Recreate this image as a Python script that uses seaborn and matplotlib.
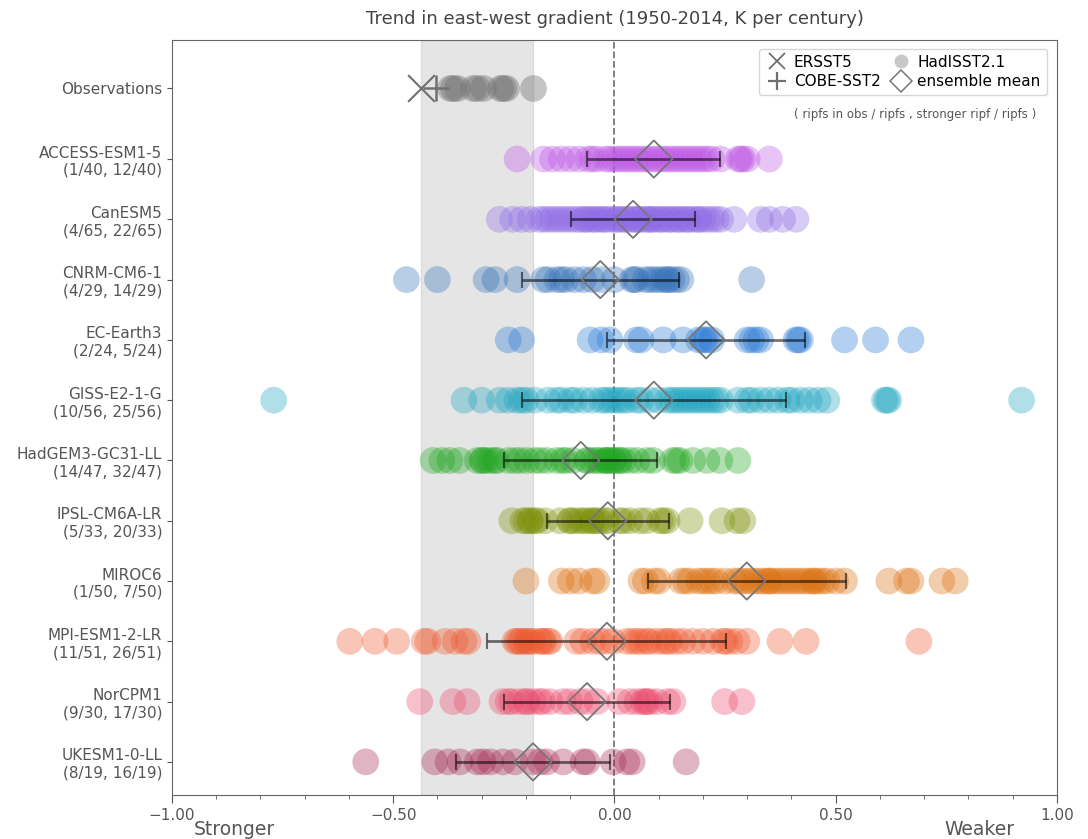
import numpy as np
import pandas as pd
import matplotlib
matplotlib.use('Agg')
import matplotlib.pyplot as plt
import matplotlib.ticker as mtick
from matplotlib.lines import Line2D
import seaborn as sns

# ------------------------------------------------------------
# data (K per century)
# ------------------------------------------------------------
models = ['ACCESS-ESM1-5', 'CanESM5', 'CNRM-CM6-1', 'EC-Earth3', 'GISS-E2-1-G',
          'HadGEM3-GC31-LL', 'IPSL-CM6A-LR', 'MIROC6', 'MPI-ESM1-2-LR',
          'NorCPM1', 'UKESM1-0-LL']
n_in_obs = [1, 4, 4, 2, 10, 14, 5, 1, 11, 9, 8]
n_stronger = [12, 22, 14, 5, 25, 32, 20, 7, 26, 17, 16]
n_members = [40, 65, 29, 24, 56, 47, 33, 50, 51, 30, 19]

colors = ['#bd56e5', '#8f6de5', '#3470b8', '#2a7ad6', '#1fa4c0', '#22a622',
          '#7c9008', '#dc7010', '#ee5a30', '#eb4b6d', '#a82a55']

ersst5 = -0.437
cobe_sst2 = -0.403
hadisst = [-0.372, -0.365, -0.355, -0.32, -0.31, -0.297, -0.259, -0.252, -0.245, -0.184]

members = {
    'ACCESS-ESM1-5': [-0.22, -0.16, -0.14, -0.12, -0.10, -0.08, -0.06, -0.05, -0.04, -0.02,
                      -0.01, 0.00, 0.01, 0.02, 0.03, 0.04, 0.05, 0.06, 0.07, 0.08, 0.09,
                      0.10, 0.11, 0.12, 0.13, 0.14, 0.15, 0.16, 0.17, 0.18, 0.19, 0.20,
                      0.21, 0.22, 0.24, 0.28, 0.285, 0.29, 0.30, 0.35],
    'CanESM5': [-0.26, -0.23, -0.21, -0.19, -0.17, -0.16, -0.15, -0.14, -0.13, -0.12,
                -0.11, -0.10, -0.09, -0.08, -0.07, -0.065, -0.06, -0.05, -0.045, -0.04,
                -0.03, -0.025, -0.02, -0.01, 0.00, 0.005, 0.01, 0.02, 0.025, 0.03, 0.04,
                0.045, 0.05, 0.055, 0.06, 0.07, 0.075, 0.08, 0.085, 0.09, 0.10, 0.105,
                0.11, 0.12, 0.125, 0.13, 0.14, 0.145, 0.15, 0.16, 0.165, 0.17, 0.18,
                0.19, 0.19, 0.20, 0.21, 0.22, 0.23, 0.24, 0.27, 0.33, 0.35, 0.38, 0.41],
    'CNRM-CM6-1': [-0.47, -0.40, -0.29, -0.27, -0.22, -0.16, -0.15, -0.13, -0.12, -0.11,
                   -0.09, -0.07, -0.05, -0.03, 0.00, 0.04, 0.045, 0.05, 0.07, 0.08, 0.09,
                   0.10, 0.11, 0.12, 0.12, 0.13, 0.14, 0.15, 0.31],
    'EC-Earth3': [-0.24, -0.21, -0.055, -0.03, -0.01, 0.05, 0.06, 0.11, 0.155, 0.19, 0.20,
                  0.205, 0.21, 0.22, 0.30, 0.31, 0.32, 0.33, 0.41, 0.415, 0.42, 0.52,
                  0.59, 0.67],
    'GISS-E2-1-G': [-0.77, -0.34, -0.30, -0.26, -0.24, -0.22, -0.21, -0.20, -0.18, -0.15,
                    -0.13, -0.12, -0.10, -0.09, -0.07, -0.05, -0.03, -0.02, -0.01, 0.00,
                    0.01, 0.02, 0.03, 0.05, 0.06, 0.08, 0.10, 0.12, 0.13, 0.14, 0.15,
                    0.16, 0.17, 0.18, 0.19, 0.20, 0.21, 0.22, 0.23, 0.24, 0.28, 0.30,
                    0.31, 0.33, 0.35, 0.37, 0.39, 0.40, 0.42, 0.44, 0.46, 0.48, 0.61,
                    0.615, 0.62, 0.92],
    'HadGEM3-GC31-LL': [-0.41, -0.39, -0.372, -0.35, -0.31, -0.30, -0.297, -0.29, -0.28,
                        -0.27, -0.266, -0.24, -0.225, -0.214, -0.198, -0.18, -0.168,
                        -0.153, -0.13, -0.117, -0.11, -0.094, -0.063, -0.06, -0.05,
                        -0.04, -0.033, -0.02, -0.02, -0.017, -0.01, -0.003, 0.00, 0.01,
                        0.012, 0.02, 0.035, 0.051, 0.073, 0.087, 0.132, 0.14, 0.148,
                        0.177, 0.209, 0.238, 0.279],
    'IPSL-CM6A-LR': [-0.232, -0.207, -0.20, -0.191, -0.19, -0.18, -0.175, -0.157, -0.123,
                     -0.101, -0.10, -0.09, -0.078, -0.07, -0.062, -0.05, -0.049, -0.04,
                     -0.033, -0.02, -0.017, 0.012, 0.02, 0.035, 0.058, 0.073, 0.103,
                     0.11, 0.119, 0.171, 0.243, 0.277, 0.29],
    'MIROC6': [-0.20, -0.12, -0.10, -0.08, -0.05, -0.04, 0.06, 0.07, 0.09, 0.10, 0.15,
               0.16, 0.17, 0.19, 0.20, 0.21, 0.22, 0.23, 0.25, 0.27, 0.28, 0.29, 0.30,
               0.31, 0.32, 0.33, 0.34, 0.35, 0.35, 0.36, 0.37, 0.38, 0.39, 0.40, 0.41,
               0.42, 0.43, 0.44, 0.45, 0.45, 0.46, 0.47, 0.48, 0.50, 0.52, 0.62, 0.66,
               0.67, 0.74, 0.77],
    'MPI-ESM1-2-LR': [-0.598, -0.541, -0.492, -0.43, -0.422, -0.383, -0.36, -0.34, -0.331,
                      -0.225, -0.22, -0.214, -0.21, -0.20, -0.198, -0.19, -0.184, -0.17,
                      -0.163, -0.16, -0.15, -0.146, -0.085, -0.071, -0.049, -0.033, -0.02,
                      -0.003, 0.028, 0.04, 0.051, 0.06, 0.073, 0.08, 0.096, 0.11, 0.12,
                      0.125, 0.14, 0.155, 0.177, 0.20, 0.223, 0.245, 0.25, 0.261, 0.277,
                      0.299, 0.374, 0.433, 0.688],
    'NorCPM1': [-0.44, -0.365, -0.333, -0.254, -0.24, -0.232, -0.214, -0.20, -0.198,
                -0.184, -0.17, -0.163, -0.146, -0.116, -0.101, -0.078, -0.062, -0.04,
                0.012, 0.035, 0.051, 0.064, 0.07, 0.073, 0.08, 0.096, 0.12, 0.132,
                0.249, 0.288],
    'UKESM1-0-LL': [-0.562, -0.406, -0.376, -0.349, -0.31, -0.297, -0.28, -0.252, -0.225,
                    -0.184, -0.168, -0.153, -0.116, -0.071, -0.062, -0.003, 0.028, 0.04,
                    0.162],
}

# ensemble mean and spread (half-length of the bar)
ens_mean = [0.089, 0.042, -0.032, 0.207, 0.089, -0.076, -0.015, 0.299, -0.017, -0.062, -0.184]
ens_spread = [0.150, 0.140, 0.177, 0.224, 0.298, 0.173, 0.138, 0.224, 0.270, 0.188, 0.173]

obs_pos = -1.17
model_pos = np.arange(len(models))

# long table for seaborn
rows = []
for i, m in enumerate(models):
    for v in members[m]:
        rows.append({'model': m, 'trend': v, 'ypos': model_pos[i]})
df = pd.DataFrame(rows)

# ------------------------------------------------------------
# plot
# ------------------------------------------------------------
sns.set_style('ticks')
plt.rcParams['font.family'] = ['DejaVu Sans']
txt_col = '#555555'

fig = plt.figure(figsize=(10.88, 8.39), dpi=100)
ax = fig.add_axes([0.158, 0.0524, 0.8135, 0.8996])

# range of the observational estimates
obs_all = [ersst5, cobe_sst2] + hadisst
ax.axvspan(min(obs_all), max(obs_all), color='grey', alpha=0.2, zorder=0)
ax.axvline(0, color='#777777', ls='--', lw=1.3, zorder=1)

sns.scatterplot(data=df, x='trend', y='ypos', hue='model',
                palette=dict(zip(models, colors)), s=370, alpha=0.35,
                linewidth=0, legend=False, ax=ax, zorder=2)

# observations
sns.scatterplot(x=hadisst, y=[obs_pos] * len(hadisst), color='#707070', s=370,
                alpha=0.4, linewidth=0, legend=False, ax=ax, zorder=2)
ax.scatter([ersst5], [obs_pos], marker='x', s=370, color='#707070', linewidths=1.5, zorder=3)
ax.scatter([cobe_sst2], [obs_pos], marker='+', s=370, color='#707070', linewidths=1.8, zorder=3)

# ensemble mean +/- spread
ax.errorbar(ens_mean, model_pos, xerr=ens_spread, fmt='none', ecolor='black',
            alpha=0.55, elinewidth=2, capsize=5.5, capthick=1.5, zorder=4)
ax.scatter(ens_mean, model_pos, marker='D', s=360, facecolors='none',
           edgecolors='#777777', linewidths=1.3, zorder=5)

# axes
ax.set_xlim(-1, 1)
ax.set_ylim(10.55, -1.97)
ax.set_yticks([obs_pos] + list(model_pos))
ylabels = ['Observations'] + [f'{m}\n({a}/{n}, {b}/{n})'
                              for m, a, b, n in zip(models, n_in_obs, n_stronger, n_members)]
ax.set_yticklabels(ylabels)
ax.xaxis.set_major_locator(mtick.MultipleLocator(0.5))
ax.xaxis.set_minor_locator(mtick.MultipleLocator(0.1))
ax.xaxis.set_major_formatter(mtick.FuncFormatter(lambda x, _: f'{x:.2f}'.replace('-', '\u2212')))
ax.tick_params(axis='both', labelsize=11, colors=txt_col, labelcolor=txt_col)
ax.tick_params(axis='x', which='major', length=6)
ax.tick_params(axis='x', which='minor', length=3, color=txt_col)
ax.set_xlabel('')
ax.set_ylabel('')
for sp in ax.spines.values():
    sp.set_color('#666666')

ax.set_title('Trend in east-west gradient (1950-2014, K per century)',
             fontsize=13, color='#444444', pad=12)

trans = ax.get_xaxis_transform()
ax.text(-0.95, -0.045, 'Stronger', transform=trans, ha='left', va='center',
        fontsize=13.5, color=txt_col)
ax.text(0.905, -0.045, 'Weaker', transform=trans, ha='right', va='center',
        fontsize=13.5, color=txt_col)

handles = [
    Line2D([], [], marker='x', ls='none', color='#707070', ms=12, mew=1.3),
    Line2D([], [], marker='+', ls='none', color='#707070', ms=13, mew=1.6),
    Line2D([], [], marker='o', ls='none', color='#c8c8c8', ms=10, mew=0),
    Line2D([], [], marker='D', ls='none', mfc='none', mec='#777777', ms=11, mew=1.1),
]
leg = ax.legend(handles, ['ERSST5', 'COBE-SST2', 'HadISST2.1', 'ensemble mean'],
                ncol=2, loc='upper right', bbox_to_anchor=(0.997, 0.999), fontsize=11,
                handletextpad=0.3, columnspacing=0.5, handlelength=1.6,
                borderpad=0.4, labelspacing=0.3, frameon=True)
for t in leg.get_texts():
    t.set_color('black')
ax.text(0.84, 0.902, '( ripfs in obs / ripfs , stronger ripf / ripfs )',
        transform=ax.transAxes, ha='center', va='center', fontsize=8.5, color=txt_col)

fig.savefig('out.png', dpi=100)
